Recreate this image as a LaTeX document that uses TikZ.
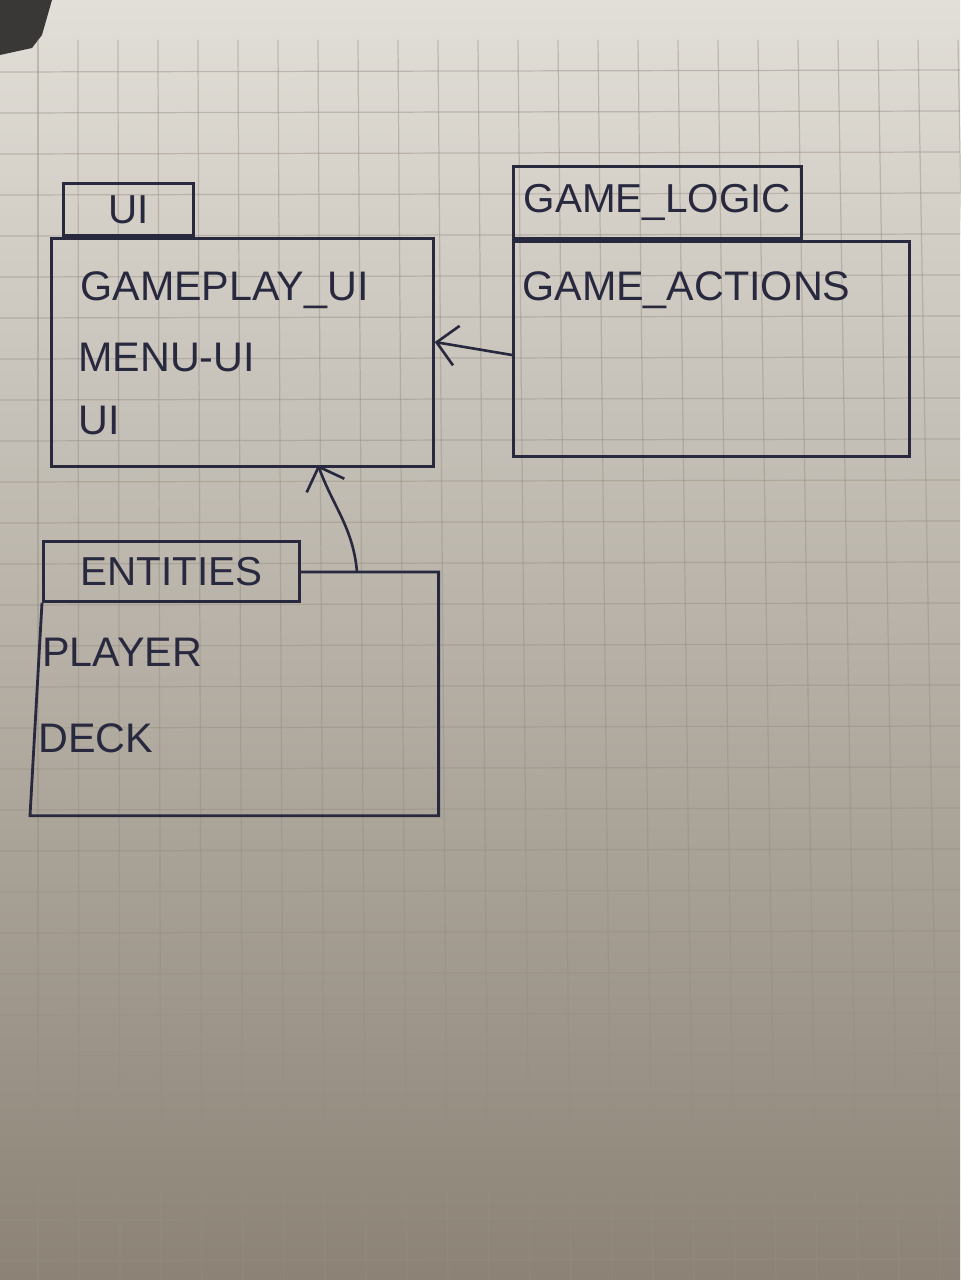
\documentclass[tikz,border=0pt]{standalone}
\usepackage{fontspec}
\setmainfont{Liberation Sans}
\usetikzlibrary{arrows.meta,positioning}

\definecolor{ink}{RGB}{40,40,62}
\definecolor{papertop}{RGB}{226,223,216}
\definecolor{papermid}{RGB}{202,196,186}
\definecolor{paperbot}{RGB}{140,131,118}
\definecolor{gridline}{RGB}{150,142,130}
\definecolor{shadow}{RGB}{58,56,54}

\tikzset{
  pkg/.style={draw=ink, line width=1.6pt, inner sep=0pt},
  item/.style={anchor=west, text=ink, inner sep=0pt, font=\fontsize{23.5}{28}\selectfont},
  tablabel/.style={text=ink, inner sep=0pt, font=\fontsize{23}{28}\selectfont},
  dep/.style={draw=ink, line width=1.5pt, -{Straight Barb[length=4mm,width=8mm,line width=1.5pt]}}
}

\begin{document}
\begin{tikzpicture}[x=0.02cm, y=-0.02cm]
    \useasboundingbox (0,0) rectangle (960,1280);

    % paper
    \shade[top color=papertop, middle color=papermid, bottom color=paperbot] (0,0) rectangle (960,1280);
    \fill[shadow] (0,0) -- (52,0) -- (42,35) -- (32,48) -- (0,55) -- cycle;
    \foreach \i in {0,...,23}
        \draw[gridline, line width=0.7pt, opacity=0.45] ({38+\i*40},40) -- ({38+\i*41},1280);
    \foreach \i in {0,...,29}
        \draw[gridline, line width=0.7pt, opacity=0.45] (0,{72+\i*41}) -- (960,{70+\i*41});

    % UI package
    \node[pkg, minimum width=7.64cm, minimum height=4.56cm, anchor=north west] (uiBody) at (50,237) {};
    \node[pkg, minimum width=2.6cm, minimum height=1.04cm, anchor=south west] (uiTab) at (62,237) {};
    \node[tablabel] (uiName) at (uiTab) {UI};
    \node[item] (gameplayUi) at (80,290) {GAMEPLAY\_UI};
    \node[item] (menuUi) at (78,357) {MENU-UI};
    \node[item] (uiItem) at (78,420) {UI};

    % GAME_LOGIC package
    \node[pkg, minimum width=7.92cm, minimum height=4.3cm, anchor=north west] (logicBody) at (512,240) {};
    \node[pkg, minimum width=5.76cm, minimum height=1.44cm, anchor=south west] (logicTab) at (512,240) {};
    \node[tablabel] (logicName) at (logicTab) {GAME\_LOGIC};
    \node[item] (gameActions) at (522,290) {GAME\_ACTIONS};

    % ENTITIES package
    \node[minimum width=8.16cm, minimum height=4.86cm, inner sep=0pt, anchor=north west] (entBody) at (30,572) {};
    \node[pkg, minimum width=5.12cm, minimum height=1.2cm, anchor=north west] (entTab) at (42,540) {};
    \draw[draw=ink, line width=1.6pt] (entTab.east |- entBody.north) -- (entBody.north east)
        -- (entBody.south east) -- (entBody.south west) -- (entTab.south west);
    \node[tablabel] (entName) at (entTab) {ENTITIES};
    \node[item] (player) at (42,652) {PLAYER};
    \node[item] (deck) at (38,738) {DECK};

    % dependencies
    \draw[dep] (logicBody.west |- 0,355) -- (uiBody.east |- 0,342);
    \draw[dep] (357,572) to[out=95, in=-70] (318,465);
\end{tikzpicture}
\end{document}
